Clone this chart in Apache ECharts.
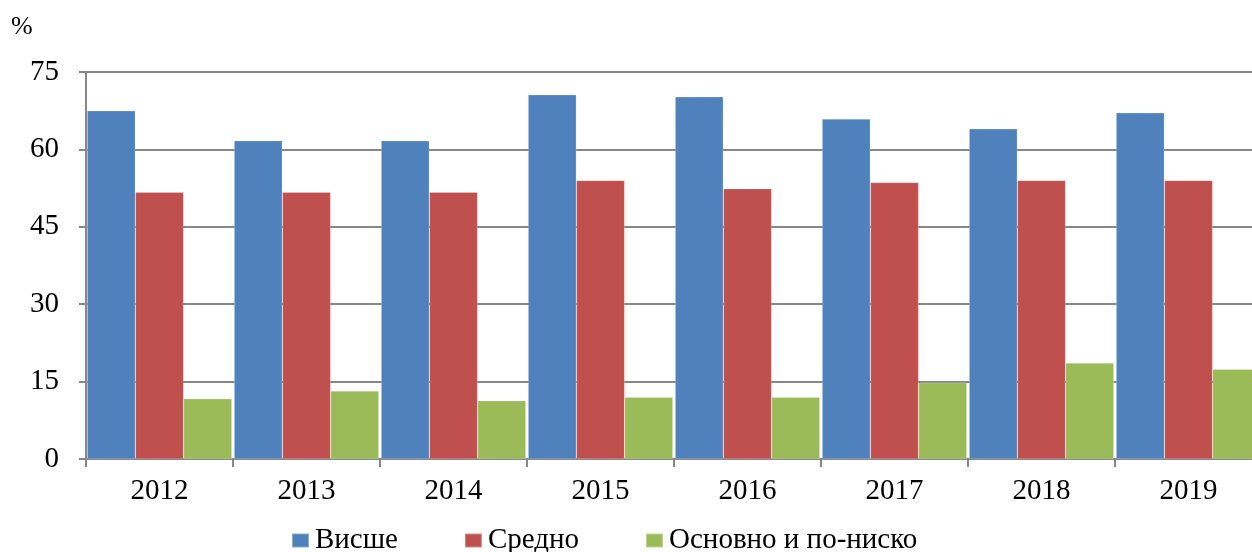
<!DOCTYPE html>
<html>
<head>
<meta charset="utf-8">
<script src="https://cdn.jsdelivr.net/npm/echarts@6/dist/echarts.min.js"></script>
<style>
html,body{margin:0;padding:0;background:#fff;overflow:hidden;width:1252px;height:552px;}
#chart{width:1262px;height:552px;}
</style>
</head>
<body>
<div id="chart"></div>
<script>
const categories = ['2012','2013','2014','2015','2016','2017','2018','2019'];
const seriesNames = ['Висше','Средно','Основно и по-ниско'];
const higher = [67.5, 61.7, 61.7, 70.6, 70.2, 65.9, 64.0, 67.1];
const secondary = [51.7, 51.7, 51.7, 54.0, 52.4, 53.6, 54.0, 54.0];
const primary = [11.7, 13.2, 11.3, 12.0, 12.0, 14.8, 18.6, 17.4];
const yTicks = [0, 15, 30, 45, 60, 75];

const colors = ['#4F81BD', '#C0504D', '#9BBB59'];
const font = '"Liberation Serif", "DejaVu Serif", serif';
const axisGray = '#878787';

const chart = echarts.init(document.getElementById('chart'));
chart.setOption({
  animation: false,
  title: {
    text: '%', left: 6, top: 9,
    textStyle: { fontFamily: font, fontSize: 26, fontWeight: 'normal', color: '#000' }
  },
  legend: {
    data: seriesNames,
    left: 286, top: 521,
    itemWidth: 17, itemHeight: 14, itemGap: 66,
    icon: 'rect',
    textStyle: { fontFamily: font, fontSize: 29, color: '#000', padding: [0, 0, 0, 1] }
  },
  grid: { left: 86, top: 72, right: 0, height: 387, containLabel: false },
  xAxis: {
    type: 'category',
    data: categories,
    axisLine: { lineStyle: { color: axisGray, width: 2 } },
    axisTick: { show: true, length: 8, lineStyle: { color: axisGray, width: 2 } },
    axisLabel: { fontFamily: font, fontSize: 29, color: '#000', margin: 18 }
  },
  yAxis: {
    type: 'value',
    min: yTicks[0], max: yTicks[yTicks.length - 1], interval: 15,
    axisLine: { show: true, lineStyle: { color: axisGray, width: 2 } },
    axisTick: { show: true, length: 7, lineStyle: { color: axisGray, width: 2 } },
    splitLine: { lineStyle: { color: axisGray, width: 2 } },
    axisLabel: { fontFamily: font, fontSize: 29, color: '#000', margin: 27 }
  },
  series: [
    { name: seriesNames[0], type: 'bar', data: higher, barGap: '0%', barCategoryGap: '1.5%',
      itemStyle: { color: colors[0], borderColor: 'rgba(255,255,255,0.35)', borderWidth: 0.6 } },
    { name: seriesNames[1], type: 'bar', data: secondary, barGap: '0%', barCategoryGap: '1.5%',
      itemStyle: { color: colors[1], borderColor: 'rgba(255,255,255,0.35)', borderWidth: 0.6 } },
    { name: seriesNames[2], type: 'bar', data: primary, barGap: '0%', barCategoryGap: '1.5%',
      itemStyle: { color: colors[2], borderColor: 'rgba(255,255,255,0.35)', borderWidth: 0.6 } }
  ]
});
</script>
</body>
</html>
